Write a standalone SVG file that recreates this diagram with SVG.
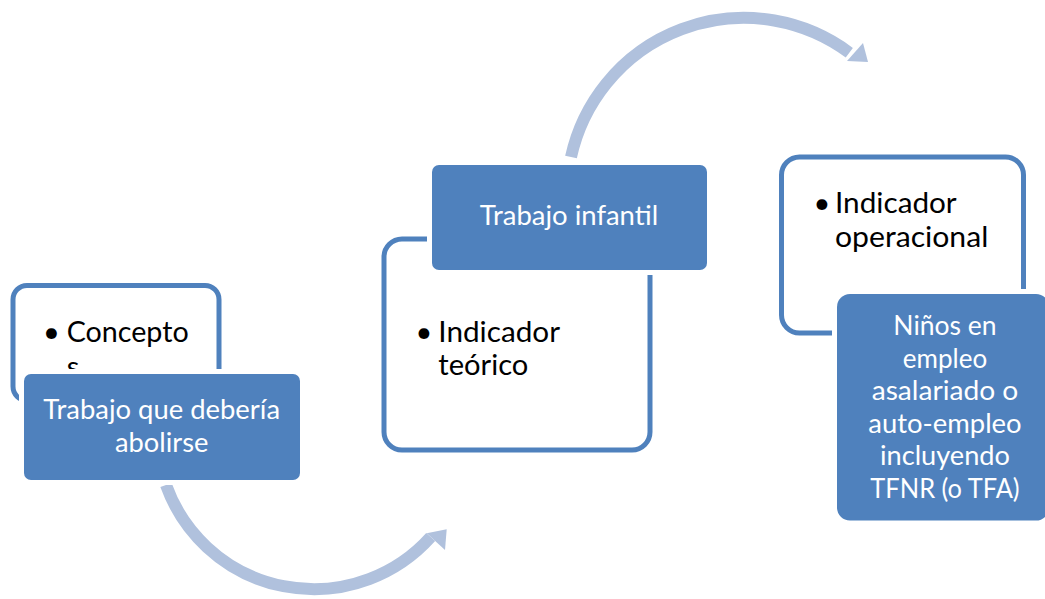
<svg xmlns="http://www.w3.org/2000/svg" width="1045" height="599" viewBox="0 0 1045 599">
<style>
.outline{fill:#FFFFFF;stroke:#4F81BD;stroke-width:5}
.blue{fill:#4F81BD;stroke:#FFFFFF;stroke-width:10;paint-order:stroke}
.dark{font-family:Lato,"Liberation Sans",sans-serif;font-size:29px;fill:#000000}
.light{font-family:Lato,"Liberation Sans",sans-serif;font-size:26px;fill:#FFFFFF;text-anchor:middle}
.shaft{fill:none;stroke:#B0C1DD;stroke-width:12}
.head{fill:#B0C1DD}
</style>
<rect width="1045" height="599" fill="#FFFFFF"/>
<g id="connectors">
<path class="shaft" d="M 166,485 A 157 157 0 0 0 430.7,537"/>
<polygon class="head" points="426.7,533.3 446.7,529.3 445,550"/>
<path class="shaft" d="M 571,157 A 177 177 0 0 1 849.3,52.7"/>
<polygon class="head" points="863,43 868,62 847,61"/>
</g>
<g id="node1">
<rect class="outline" x="13" y="285.5" width="206" height="115" rx="14"/>
<text class="dark" x="43" y="342">•</text>
<text class="dark" x="66.7" y="342" textLength="122" lengthAdjust="spacingAndGlyphs">Concepto</text>
<text class="dark" x="66.7" y="377">s</text>
<rect class="blue" x="24" y="374" width="276" height="106" rx="7"/>
<text class="light" x="161.7" y="419.3" textLength="236.7" lengthAdjust="spacingAndGlyphs">Trabajo que debería</text>
<text class="light" x="161.7" y="451.7" textLength="93.3" lengthAdjust="spacingAndGlyphs">abolirse</text>
</g>
<g id="node2">
<rect class="outline" x="384" y="239" width="266" height="211" rx="18"/>
<rect class="blue" x="432" y="165" width="275" height="105" rx="7"/>
<text class="light" x="569" y="225" textLength="178.3" lengthAdjust="spacingAndGlyphs">Trabajo infantil</text>
<text class="dark" x="415.5" y="342">•</text>
<text class="dark" x="438.3" y="341.7" textLength="121.7" lengthAdjust="spacingAndGlyphs">Indicador</text>
<text class="dark" x="438.3" y="375" textLength="90" lengthAdjust="spacingAndGlyphs">teórico</text>
</g>
<g id="node3">
<rect class="outline" x="781.5" y="157" width="242" height="176" rx="18"/>
<text class="dark" x="813.5" y="213">•</text>
<text class="dark" x="835" y="213.3" textLength="121.7" lengthAdjust="spacingAndGlyphs">Indicador</text>
<text class="dark" x="835" y="246.7" textLength="153.3" lengthAdjust="spacingAndGlyphs">operacional</text>
<rect class="blue" x="837" y="294" width="212" height="226.5" rx="13"/>
<text class="light" x="945" y="335" textLength="103.3" lengthAdjust="spacingAndGlyphs">Niños en</text>
<text class="light" x="945" y="367.6">empleo</text>
<text class="light" x="945" y="400.2" textLength="146.7" lengthAdjust="spacingAndGlyphs">asalariado o</text>
<text class="light" x="945" y="432.8" textLength="153.3" lengthAdjust="spacingAndGlyphs">auto-empleo</text>
<text class="light" x="945" y="465.4" textLength="130" lengthAdjust="spacingAndGlyphs">incluyendo</text>
<text class="light" x="945" y="498" textLength="149.3" lengthAdjust="spacingAndGlyphs">TFNR (o TFA)</text>
</g>
</svg>
